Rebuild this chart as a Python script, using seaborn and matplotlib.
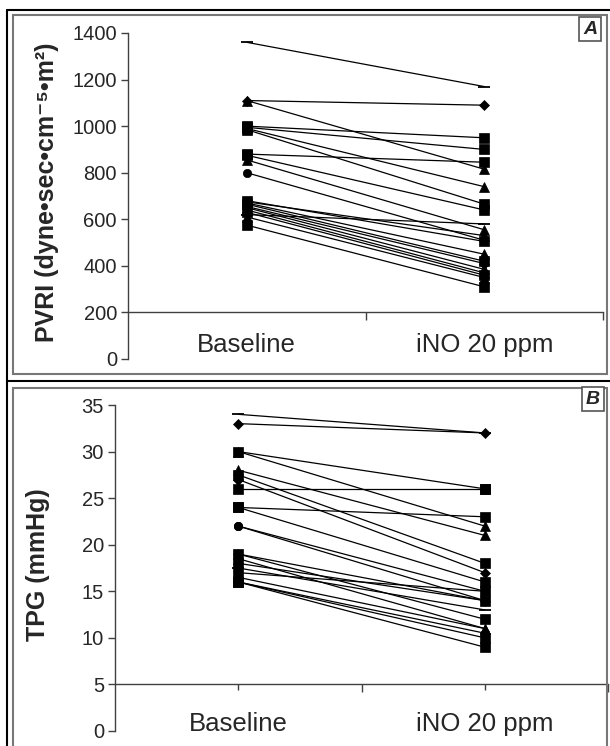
# -*- coding:utf-8 -*-

import pandas
import matplotlib.pyplot as plt
import seaborn as sns
from matplotlib.lines import Line2D
from matplotlib.patches import Rectangle

# Data
conditions = ["Baseline", "iNO 20 ppm"]

pvri_baseline = [1360, 1110, 1110, 1000, 995, 990, 985, 880, 875, 855, 800,
                 680, 620, 675, 670, 665, 655, 650, 640, 630, 610, 575]
pvri_ino = [1170, 1090, 815, 950, 900, 740, 665, 845, 640, 555, 510,
            505, 580, 530, 450, 420, 410, 385, 370, 360, 350, 310]

tpg_baseline = [34, 33, 30, 30, 28, 27.5, 27, 26, 24, 24, 22,
                22, 19, 19, 18.5, 18, 17.5, 17, 16.5, 16, 16, 16]
tpg_ino = [32, 32, 26, 22, 21, 18, 17, 26, 23, 16, 15,
           14, 12, 14, 11, 14, 13, 15, 11, 10.5, 10, 9]

# Marker styles, one per patient line
pvri_markers = ['_', 'D', '^', 's', 's', '^', 's', 's', 's', '^', 'o',
                's', '_', '^', '^', 's', 'D', '^', '^', 's', '^', 's']
tpg_markers = ['_', 'D', 's', '^', '^', 's', 'D', 's', 's', 's', 'o',
               'o', 's', 'D', '^', 's', '_', 's', '^', 'o', 's', 's']
marker_size = {'_': 9, 'D': 5.5, '^': 7.5, 's': 7, 'o': 6}


def long_frame(base, ino):
    rows = []
    for i, (b, n) in enumerate(zip(base, ino)):
        rows.append(dict(patient=i, condition=conditions[0], value=b))
        rows.append(dict(patient=i, condition=conditions[1], value=n))
    df = pandas.DataFrame(rows)
    df["x"] = df.condition.map({c: i for i, c in enumerate(conditions)})
    return df


sns.set_style("white")
plt.rcParams['font.family'] = ['Liberation Sans', 'DejaVu Sans']

W, H = 610, 746
fig = plt.figure(figsize=(W / 100, H / 100), dpi=100)

ax1 = fig.add_axes([128 / W, 1 - 359 / H, 475 / W, 326 / H])
ax2 = fig.add_axes([115 / W, 1 - 731 / H, 493 / W, 326 / H])

panels = [
    (ax1, long_frame(pvri_baseline, pvri_ino), pvri_markers,
     (0, 1400, 200), 200, u"PVRI (dyne\u2022sec\u2022cm\u207b\u2075\u2022m\u00b2)",
     (-0.145, 0.51), 0, 15),
    (ax2, long_frame(tpg_baseline, tpg_ino), tpg_markers,
     (0, 35, 5), 5, "TPG (mmHg)", (-0.132, 0.51), 4, 16),
]

for ax, df, markers, (lo, hi, step), cross, ylabel, lab_xy, minlen, pad in panels:
    for pid, m in enumerate(markers):
        sns.lineplot(data=df[df.patient == pid], x="x", y="value", ax=ax,
                     color="black", linewidth=0.9, marker=m,
                     markersize=marker_size[m], markeredgewidth=1.3 if m == '_' else 0.5,
                     markeredgecolor="black", estimator=None, errorbar=None,
                     legend=False)

    ax.set_xlim(-0.5, 1.5)
    ax.set_ylim(lo, hi)
    ax.set_yticks(range(lo, hi + 1, step))
    ax.tick_params(axis='y', labelsize=14.5, direction='out', length=5,
                   width=1, color='#404040', left=True, pad=3)
    ax.set_xticks([0.5, 1.5])
    ax.set_xticklabels([])
    ax.set_xticks([0, 1], minor=True)
    ax.set_xticklabels(conditions, minor=True)
    ax.tick_params(axis='x', which='major', direction='out', length=6,
                   width=1, color='#404040', bottom=True)
    ax.tick_params(axis='x', which='minor', direction='out', length=minlen,
                   width=1, color='#404040', bottom=True, labelsize=18.5, pad=pad)

    for side in ['top', 'right']:
        ax.spines[side].set_visible(False)
    ax.spines['bottom'].set_position(('data', cross))
    for side in ['left', 'bottom']:
        ax.spines[side].set_color('#404040')
        ax.spines[side].set_linewidth(1)

    ax.set_xlabel("")
    ax.set_ylabel(ylabel, fontsize=18, fontweight='bold')
    ax.yaxis.set_label_coords(*lab_xy)
    ax.set_facecolor('none')
    ax.grid(False)

# Panel frames
def fx(px):
    return px / W


def fy(py):
    return 1 - py / H


frame_kw = dict(transform=fig.transFigure, color='black', linewidth=1.5)
fig.add_artist(Line2D([fx(7), fx(7)], [fy(10), fy(746)], **frame_kw))
fig.add_artist(Line2D([fx(7), fx(610)], [fy(10), fy(10)], **frame_kw))
fig.add_artist(Line2D([fx(7), fx(610)], [fy(381), fy(381)], **frame_kw))

for top, bottom in [(15, 374), (388, 752)]:
    fig.add_artist(Rectangle((fx(13), fy(bottom)), fx(607) - fx(13), fy(top) - fy(bottom),
                             transform=fig.transFigure, fill=False,
                             edgecolor='#777777', linewidth=1.5))

# Panel letters
for letter, (px, py) in [("A", (590, 29)), ("B", (593, 399))]:
    fig.text(fx(px), fy(py), letter, fontsize=14, fontweight='bold', fontstyle='italic',
             ha='center', va='center',
             bbox=dict(boxstyle='square,pad=0.2', fc='white', ec='#555555', lw=1.2))

plt.savefig("out.png", dpi=100)
